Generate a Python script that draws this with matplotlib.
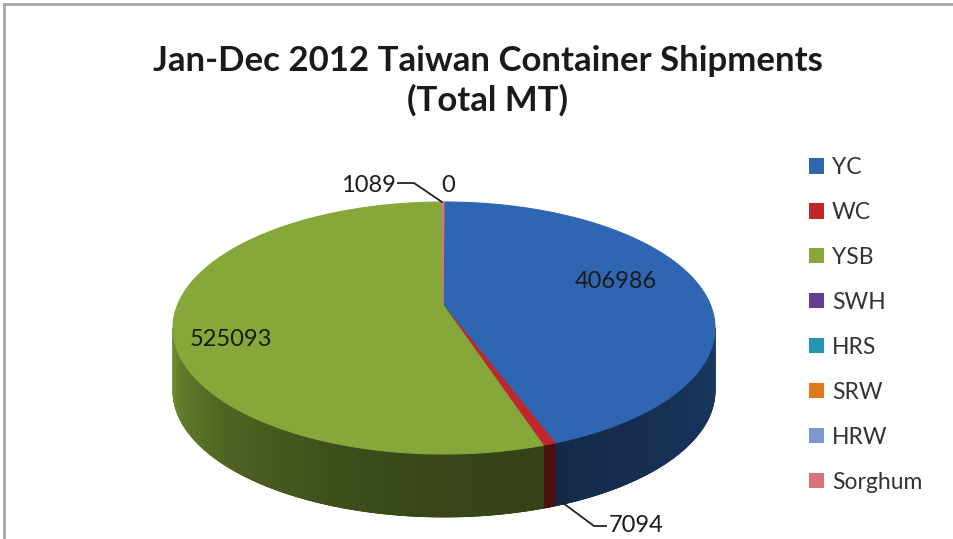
import numpy as np
import matplotlib
matplotlib.use('Agg')
import matplotlib.pyplot as plt
from matplotlib.patches import Polygon, Patch

plt.rcParams['font.family'] = ['Lato', 'DejaVu Sans']

# дані
categories = ['YC', 'WC', 'YSB', 'SWH', 'HRS', 'SRW', 'HRW', 'Sorghum']
values = [406986, 7094, 525093, 0, 0, 0, 0, 1089]
colors = ['#2f66b2', '#be272c', '#86a83a', '#5f3f93', '#2596b0', '#e0791c', '#7b98cf', '#d9757a']
title = 'Jan-Dec 2012 Taiwan Container Shipments\n(Total MT)'

# геометрія псевдо-3D пирога (в пікселях)
cx, cy = 444, 328      # центр еліпса
ax_, ay_ = 443, 305    # вершина секторів (перспектива)
a, b = 271, 126
depth = 63

fig = plt.figure(figsize=(9.54, 5.39), dpi=100)
ax = fig.add_axes([0, 0, 1, 1])
ax.set_xlim(0, 954)
ax.set_ylim(539, 0)
ax.axis('off')


def pt(th):
    r = np.radians(th)
    return cx + a * np.sin(r), cy - b * np.cos(r)


def shade(th):
    if th < 160:
        return 0.4 + 0.15 * (160 - th) / 70
    return 0.4 + 0.45 * ((th - 160) / 110) ** 2


total = float(sum(values))
angles = np.cumsum([0] + [v / total * 360 for v in values])

# бокові стінки
for i, v in enumerate(values):
    t0, t1 = angles[i], angles[i + 1]
    lo, hi = max(t0, 90), min(t1, 270)
    if v == 0 or hi <= lo:
        continue
    n = max(2, int(hi - lo) + 1)
    ts = np.linspace(lo, hi, n)
    base = np.array(matplotlib.colors.to_rgb(colors[i]))
    top = [pt(t) for t in ts]
    bot = [(x, y + depth) for x, y in top[::-1]]
    cm = np.clip(base * shade((lo + hi) / 2), 0, 1)
    ax.add_patch(Polygon(top + bot, closed=True, fc=cm, ec=cm, lw=0.6))
    for k in range(n - 1):
        x0, y0 = top[k]
        x1, y1 = top[k + 1]
        c = np.clip(base * shade((ts[k] + ts[k + 1]) / 2), 0, 1)
        ax.add_patch(Polygon([(x0, y0), (x1, y1), (x1, y1 + depth), (x0, y0 + depth)],
                             closed=True, fc=c, ec=c, lw=0.5))

# верхня поверхня
for i, v in enumerate(values):
    if v == 0:
        continue
    t0, t1 = angles[i], angles[i + 1]
    ts = np.linspace(t0, t1, max(2, int((t1 - t0) * 2)))
    xy = [(ax_, ay_)] + [pt(t) for t in ts]
    ax.add_patch(Polygon(xy, closed=True, fc=colors[i], ec=colors[i], lw=0.8))

# підписи
lab_kw = dict(fontsize=17, color='#1a1a1a', va='center')
ax.text(616, 281, '406986', ha='center', **lab_kw)
ax.text(231, 340, '525093', ha='center', **lab_kw)
ax.text(396, 186, '1089', ha='right', **lab_kw)
ax.text(448, 186, '0', ha='center', **lab_kw)
ax.text(609, 525, '7094', ha='left', **lab_kw)
ax.plot([398, 414, 442], [183, 183, 202], color='#222222', lw=1.3)
ax.plot([563, 594, 606], [503, 526, 526], color='#222222', lw=1.3)

ax.text(488, 81, title, ha='center', va='center', fontsize=25, fontweight='bold',
        color='#1a1a1a', linespacing=1.25)

# рамка
ax.plot([4, 954], [4, 4], color='#a6a6a6', lw=2)
ax.plot([4, 4], [4, 539], color='#a6a6a6', lw=2)

handles = [Patch(facecolor=c, edgecolor='none') for c in colors]
leg = ax.legend(handles, categories, loc='upper left', bbox_to_anchor=(0.836, 0.730),
                frameon=False, fontsize=16.5, handlelength=0.65, handleheight=0.65,
                handletextpad=0.35, labelspacing=1.045, borderpad=0)
for t in leg.get_texts():
    t.set_color('#333333')

fig.savefig('out.png', dpi=100)
